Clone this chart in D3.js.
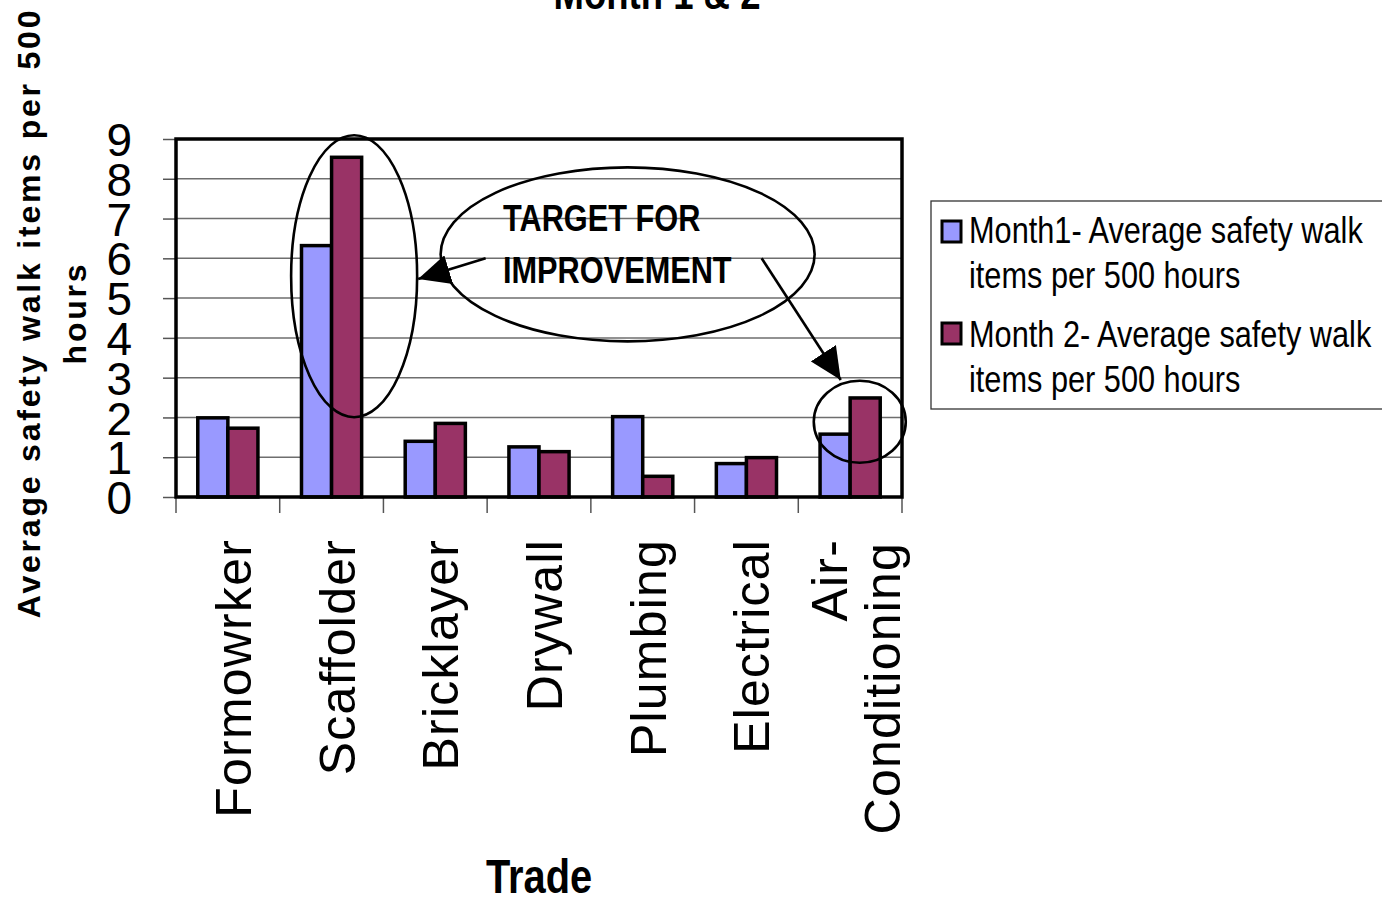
<!DOCTYPE html>
<html>
<head>
<meta charset="utf-8">
<script src="https://cdn.jsdelivr.net/npm/d3@7/dist/d3.min.js"></script>
<style>
  html, body { margin: 0; padding: 0; background: #fff; }
  svg { display: block; }
  text { font-family: "Liberation Sans", Arial, sans-serif; fill: #000; }
</style>
</head>
<body>
<svg id="chart" width="1382" height="897"></svg>
<script>
// Trades and their two-month averages (safety walk items per 500 hours)
const categories = ["Formowrker", "Scaffolder", "Bricklayer", "Drywall", "Plumbing", "Electrical", "Air-Conditioning"];
const categoryLines = [["Formowrker"], ["Scaffolder"], ["Bricklayer"], ["Drywall"], ["Plumbing"], ["Electrical"], ["Air-", "Conditioning"]];
const month1 = [1.99, 6.32, 1.40, 1.26, 2.02, 0.84, 1.58];
const month2 = [1.73, 8.54, 1.85, 1.14, 0.52, 0.99, 2.49];
const seriesKeys = ["m1", "m2"];
const seriesNames = [
  ["Month1- Average safety walk", "items per 500 hours"],
  ["Month 2- Average safety walk", "items per 500 hours"]
];
const seriesColors = ["#9999FF", "#993366"];
const yTicks = [0, 1, 2, 3, 4, 5, 6, 7, 8, 9];
const titleText = "Month 1 & 2";
const xTitle = "Trade";
const yTitleLines = ["Average safety walk items per 500", "hours"];
const noteLines = ["TARGET FOR", "IMPROVEMENT"];

const svg = d3.select("#chart");
const plot = { left: 176, top: 139, width: 726, height: 358 };
const narrow = 0.83; // horizontal squeeze for the condensed captions

const x = d3.scaleBand()
  .domain(categories)
  .range([plot.left, plot.left + plot.width])
  .paddingInner(0.42)
  .paddingOuter(0.21);
const x1 = d3.scaleBand().domain(seriesKeys).range([0, x.bandwidth()]);
const y = d3.scaleLinear().domain([0, 9]).range([plot.top + plot.height, plot.top]);

// Horizontal gridlines
svg.append("g")
  .selectAll("line")
  .data(yTicks.filter(v => v > 0 && v < 9))
  .join("line")
  .attr("x1", plot.left).attr("x2", plot.left + plot.width)
  .attr("y1", d => y(d)).attr("y2", d => y(d))
  .attr("stroke", "#6e6e6e").attr("stroke-width", 1.5);

// Y axis ticks and labels
const yAxis = svg.append("g")
  .attr("transform", `translate(${plot.left},0)`)
  .call(d3.axisLeft(y).tickValues(yTicks).tickSize(13).tickPadding(31).tickFormat(d3.format("d")));
yAxis.select(".domain").remove();
yAxis.selectAll(".tick line").attr("stroke", "#555").attr("stroke-width", 1.5);
yAxis.selectAll(".tick text")
  .attr("font-family", "'Liberation Sans', Arial, sans-serif")
  .attr("font-size", 46).attr("fill", "#000").attr("dy", "0.36em");

// Category boundary ticks below the axis
const step = x.step();
const boundaries = categories.map(c => x(c) - step * x.paddingInner() / 2)
  .concat([x(categories[categories.length - 1]) + x.bandwidth() + step * x.paddingInner() / 2]);
svg.append("g")
  .selectAll("line")
  .data(boundaries)
  .join("line")
  .attr("x1", d => d).attr("x2", d => d)
  .attr("y1", y(0)).attr("y2", y(0) + 16)
  .attr("stroke", "#555").attr("stroke-width", 1.5);

// Bars
const rows = categories.map((c, i) => ({ cat: c, values: [
  { key: "m1", v: month1[i], color: seriesColors[0] },
  { key: "m2", v: month2[i], color: seriesColors[1] }
]}));
svg.append("g")
  .selectAll("g")
  .data(rows)
  .join("g")
  .attr("transform", d => `translate(${x(d.cat)},0)`)
  .selectAll("rect")
  .data(d => d.values)
  .join("rect")
  .attr("x", d => x1(d.key))
  .attr("width", x1.bandwidth())
  .attr("y", d => y(d.v))
  .attr("height", d => y(0) - y(d.v))
  .attr("fill", d => d.color)
  .attr("stroke", "#000").attr("stroke-width", 3.5).attr("stroke-linejoin", "miter");

// Plot frame
svg.append("rect")
  .attr("x", plot.left).attr("y", plot.top)
  .attr("width", plot.width).attr("height", plot.height)
  .attr("fill", "none").attr("stroke", "#000").attr("stroke-width", 3.5);

// Category labels, rotated to read upward
const xLab = svg.append("g");
categoryLines.forEach((lines, i) => {
  const cx = x(categories[i]) + x.bandwidth() / 2;
  const n = lines.length;
  lines.forEach((t, j) => {
    const off = 23 + (j - (n - 1) / 2) * 53;
    xLab.append("text")
      .attr("transform", `translate(${cx + off},${y(0) + 42 + j * 3}) rotate(-90)`)
      .attr("text-anchor", "end")
      .attr("font-size", 50)
      .attr("letter-spacing", 1.2)
      .text(t);
  });
});

// Axis titles
svg.append("text")
  .attr("transform", `translate(${plot.left + plot.width / 2},893) scale(${narrow},1)`)
  .attr("text-anchor", "middle")
  .attr("font-size", 48).attr("font-weight", "bold")
  .text(xTitle);

const yTitleBase = [40, 86];
yTitleLines.forEach((t, j) => {
  svg.append("text")
    .attr("transform", `translate(${yTitleBase[j]},313) rotate(-90)`)
    .attr("text-anchor", "middle")
    .attr("font-size", 32).attr("font-weight", "bold")
    .attr("letter-spacing", 2.8)
    .text(t);
});

// Chart title (clipped at the top edge)
svg.append("text")
  .attr("transform", `translate(657,9) scale(${narrow},1)`)
  .attr("text-anchor", "middle")
  .attr("font-size", 44).attr("font-weight", "bold")
  .text(titleText);

// Callouts
const callout = svg.append("g").attr("fill", "none").attr("stroke", "#000").attr("stroke-width", 2.6);
const scafX = x("Scaffolder") + x.bandwidth() * 0.875;
const acX = x("Air-Conditioning") + x.bandwidth() * 0.66;
callout.append("ellipse").attr("cx", scafX).attr("cy", y(5.55)).attr("rx", 63).attr("ry", 141);
callout.append("ellipse").attr("cx", acX).attr("cy", y(1.89)).attr("rx", 46).attr("ry", 41);
const noteX = x("Plumbing") + 15;
callout.append("ellipse").attr("cx", noteX).attr("cy", y(6.1)).attr("rx", 187).attr("ry", 87);

const defs = svg.append("defs");
defs.append("marker")
  .attr("id", "head")
  .attr("markerUnits", "userSpaceOnUse")
  .attr("viewBox", "0 0 32 30")
  .attr("markerWidth", 32).attr("markerHeight", 30)
  .attr("refX", 32).attr("refY", 15)
  .attr("orient", "auto")
  .append("path").attr("d", "M0,0 L32,15 L0,30 Z").attr("fill", "#000");

callout.append("line")
  .attr("x1", noteX - 142).attr("y1", y(6.0))
  .attr("x2", scafX + 64).attr("y2", y(5.48))
  .attr("marker-end", "url(#head)");
callout.append("line")
  .attr("x1", noteX + 134).attr("y1", y(6.0))
  .attr("x2", acX - 19).attr("y2", y(2.94))
  .attr("marker-end", "url(#head)");

noteLines.forEach((t, j) => {
  svg.append("text")
    .attr("transform", `translate(503,${231 + j * 52}) scale(${narrow},1)`)
    .attr("font-size", 37).attr("font-weight", "bold")
    .text(t);
});

// Legend
const legend = svg.append("g");
legend.append("rect")
  .attr("x", 931).attr("y", 201).attr("width", 470).attr("height", 208)
  .attr("fill", "#fff").attr("stroke", "#333").attr("stroke-width", 1.3);
const legendRowY = [221, 323];
const legendBase = [[243, 288], [347, 392]];
seriesNames.forEach((lines, i) => {
  legend.append("rect")
    .attr("x", 942).attr("y", legendRowY[i]).attr("width", 19).attr("height", 21)
    .attr("fill", seriesColors[i]).attr("stroke", "#000").attr("stroke-width", 3);
  lines.forEach((t, j) => {
    legend.append("text")
      .attr("transform", `translate(969,${legendBase[i][j]}) scale(${narrow},1)`)
      .attr("font-size", 37)
      .text(t);
  });
});
</script>
</body>
</html>
